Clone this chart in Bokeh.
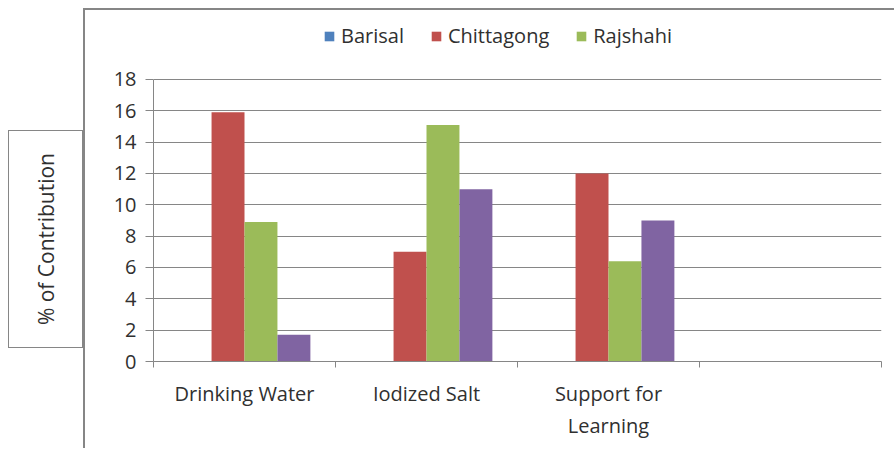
import numpy as np
from bokeh.plotting import figure
from bokeh.layouts import row, column
from bokeh.models import (ColumnDataSource, Range1d, FixedTicker, Legend, LegendItem, Div, Spacer)
from bokeh.embed import file_html
from bokeh.resources import INLINE

# ---- data ----
categories = ["Drinking Water", "Iodized Salt", "Support for\nLearning", ""]
barisal = [0, 0, 0, 0]
chittagong = [15.9, 7.0, 12.0, 0]
rajshahi = [8.9, 15.1, 6.4, 0]
series4 = [1.7, 11.0, 9.0, 0]
y_ticks = list(range(0, 19, 2))
y_title = "% of Contribution"

series_names = ["Barisal", "Chittagong", "Rajshahi", "Series 4"]
series_vals = [barisal, chittagong, rajshahi, series4]
colors = ["#4F81BD", "#C0504D", "#9BBB59", "#8064A2"]

FONT = "Open Sans"
GRAY = "#868686"
TXT = "#303030"

# frame spans from the top of the canvas down to the x axis; the data area is 0..18
p = figure(width=811, height=440, output_backend="svg", toolbar_location=None,
           x_range=Range1d(0, len(categories)), y_range=Range1d(0, 22.4),
           min_border_left=68, min_border_right=15, min_border_top=0,
           min_border_bottom=89)
p.outline_line_color = None
p.background_fill_color = "white"
p.border_fill_color = "white"
p.styles = {"border-left": f"2px solid {GRAY}", "border-top": f"2px solid {GRAY}"}

bw = 0.181
idx = np.arange(len(categories)) + 0.5
renderers = []
for k, (name, vals, c) in enumerate(zip(series_names, series_vals, colors)):
    src = ColumnDataSource(dict(x=idx + (k - 1.5) * bw, top=vals))
    r = p.vbar(x="x", top="top", width=bw, source=src, fill_color=c, line_color=None)
    renderers.append(r)

# y axis
p.yaxis.ticker = FixedTicker(ticks=y_ticks, minor_ticks=[])
p.yaxis.bounds = (0, 18)
p.yaxis.axis_line_color = GRAY
p.yaxis.major_tick_line_color = GRAY
p.yaxis.major_tick_out = 8
p.yaxis.major_tick_in = 0
p.yaxis.minor_tick_line_color = None
p.yaxis.major_label_text_font = FONT
p.yaxis.major_label_text_font_size = "20px"
p.yaxis.major_label_text_color = TXT
p.yaxis.major_label_standoff = 9

# x axis
p.xaxis.ticker = FixedTicker(ticks=list(idx), minor_ticks=list(range(len(categories) + 1)))
p.xaxis.major_label_overrides = {float(v): c for v, c in zip(idx, categories)}
p.xaxis.axis_line_color = GRAY
p.xaxis.major_tick_line_color = None
p.xaxis.major_tick_out = 0
p.xaxis.major_tick_in = 0
p.xaxis.minor_tick_line_color = GRAY
p.xaxis.minor_tick_out = 6
p.xaxis.minor_tick_in = 0
p.xaxis.major_label_text_font = FONT
p.xaxis.major_label_text_font_size = "20px"
p.xaxis.major_label_text_color = TXT
p.xaxis.major_label_standoff = 12

p.xgrid.grid_line_color = None
p.ygrid.grid_line_color = GRAY
p.ygrid.grid_line_width = 1

# legend (first three series only), placed above the data area inside the frame
legend = Legend(items=[LegendItem(label=series_names[i], renderers=[renderers[i]]) for i in range(3)],
                orientation="horizontal", location=(170, 312),
                glyph_width=12, glyph_height=12, label_standoff=6, spacing=26,
                padding=0, margin=0, border_line_color=None, background_fill_alpha=0,
                label_text_font=FONT, label_text_font_size="20px", label_text_color=TXT)
p.add_layout(legend, "center")

# boxed y-axis title
title_html = (
    f'<div style="box-sizing:border-box;margin:122px 0 0 0;width:75px;height:218px;'
    f'border:1px solid {GRAY};background:white;display:flex;align-items:center;'
    'justify-content:center;">'
    f'<span style="writing-mode:vertical-rl;transform:rotate(180deg);font-family:\'Open Sans\';'
    f'font-size:21px;color:{TXT};white-space:nowrap;">{y_title}</span></div>'
)
ydiv = Div(text=title_html, width=75, height=440, styles={"margin": "0", "padding": "0"})

layout = column(Spacer(width=10, height=8), row(Spacer(width=8, height=10), ydiv, p))
open("out.html", "w").write(file_html(layout, INLINE))
